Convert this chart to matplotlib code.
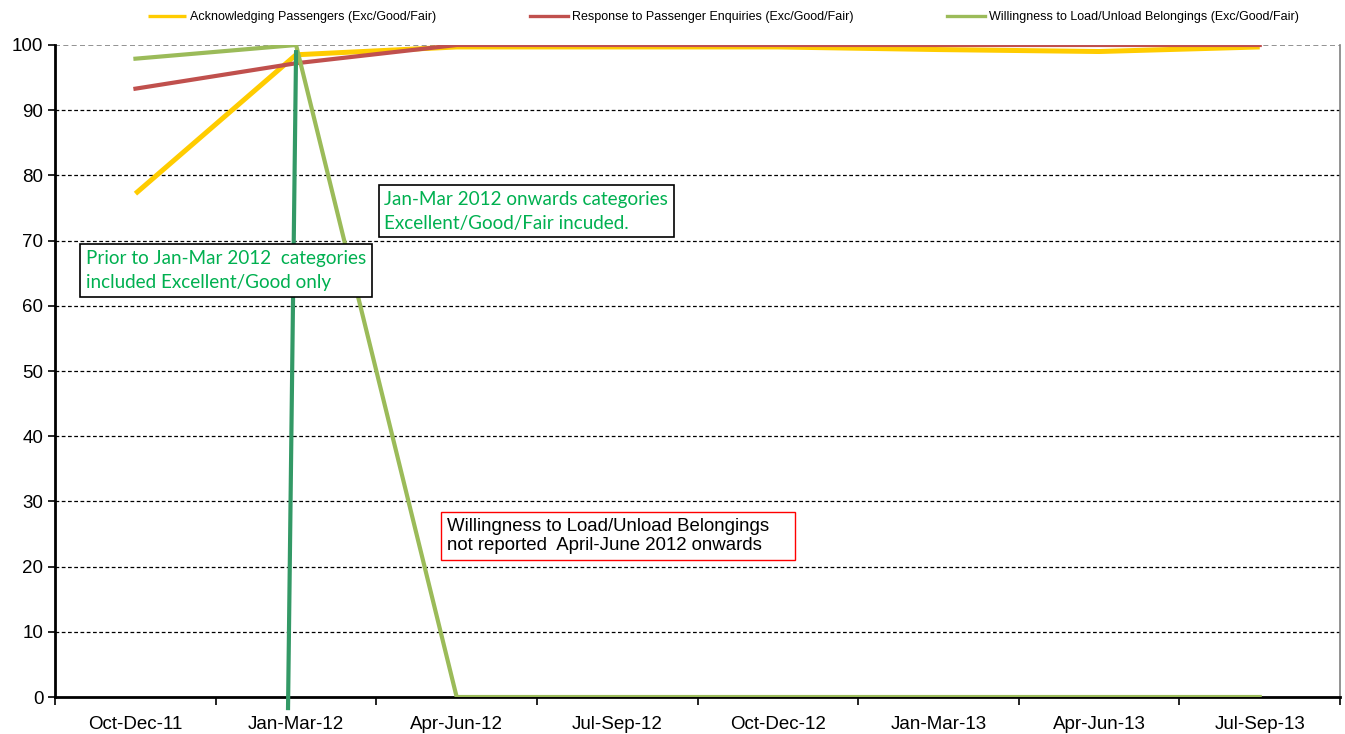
import matplotlib
matplotlib.use("Agg")
import matplotlib.pyplot as plt
from matplotlib.ticker import FixedLocator, NullFormatter

# ---------- data ----------
quarters = ["Oct-Dec-11", "Jan-Mar-12", "Apr-Jun-12", "Jul-Sep-12",
            "Oct-Dec-12", "Jan-Mar-13", "Apr-Jun-13", "Jul-Sep-13"]
acknowledging = [77.2, 98.5, 99.7, 99.7, 99.7, 99.3, 99.0, 99.7]
response = [93.3, 97.2, 100, 100, 100, 100, 100, 100]
willingness = [97.9, 100, 0, 0, 0, 0, 0, 0]

series_labels = [
    "Acknowledging Passengers (Exc/Good/Fair)",
    "Response to Passenger Enquiries (Exc/Good/Fair)",
    "Willingness to Load/Unload Belongings (Exc/Good/Fair)",
]

# marker separating the category change (drawn shape in the original)
divider_x = [1.0, 0.95]
divider_y = [98.9, -1.7]

fig = plt.figure(figsize=(13.45, 7.34), dpi=100)
ax = fig.add_axes([0.041, 0.0504, 0.9553, 0.8883])

x = range(len(quarters))
l1, = ax.plot(x, acknowledging, color="#FFCC00", lw=3.6, solid_capstyle="butt", zorder=3)
l2, = ax.plot(x, response, color="#C0504D", lw=3.0, zorder=4)
l3, = ax.plot(x, willingness, color="#9BBB59", lw=3.0, zorder=5)
ax.plot(divider_x, divider_y, color="#339966", lw=3.0, zorder=6, clip_on=False)

ax.set_xlim(-0.5, len(quarters) - 0.5)
ax.set_ylim(0, 100)

# category axis: tick marks between categories, labels centred
ax.xaxis.set_major_locator(FixedLocator([i - 0.5 for i in range(len(quarters) + 1)]))
ax.xaxis.set_major_formatter(NullFormatter())
ax.xaxis.set_minor_locator(FixedLocator(list(x)))
ax.set_xticklabels(quarters, minor=True, fontsize=13.5, family="Liberation Sans")
ax.tick_params(axis="x", which="major", direction="out", length=6, width=1.2)
ax.tick_params(axis="x", which="minor", length=0, pad=14)

ax.set_yticks(range(0, 101, 10))
ax.tick_params(axis="y", direction="out", length=5, width=1.2, labelsize=13.5)
for lab in ax.get_yticklabels():
    lab.set_family("Liberation Sans")

for yv in range(10, 100, 10):
    ax.axhline(yv, color="black", lw=0.9, ls=(0, (3, 2)), zorder=1)
ax.axhline(100, color="#808080", lw=1.2, ls=(0, (3, 2)), zorder=1)

ax.spines["left"].set_linewidth(2)
ax.spines["bottom"].set_linewidth(2)
ax.spines["top"].set_visible(False)
ax.spines["right"].set_color("#808080")
ax.spines["right"].set_linewidth(1.2)

# annotations
green_txt = "#00B050"
ax.text(-0.31, 65.4, "Prior to Jan-Mar 2012  categories\nincluded Excellent/Good only",
        color=green_txt, fontsize=13.6, family="Lato", linespacing=1.5, va="center",
        bbox=dict(boxstyle="square,pad=0.3", fc="white", ec="black", lw=1.2), zorder=7)
ax.text(1.55, 74.5, "Jan-Mar 2012 onwards categories\nExcellent/Good/Fair incuded.",
        color=green_txt, fontsize=13.6, family="Lato", linespacing=1.5, va="center",
        bbox=dict(boxstyle="square,pad=0.3", fc="white", ec="black", lw=1.2), zorder=7)
ax.text(1.94, 24.7, "Willingness to Load/Unload Belongings    \nnot reported  April-June 2012 onwards",
        color="black", fontsize=13.4, family="Liberation Sans", linespacing=1.2, va="center",
        bbox=dict(boxstyle="square,pad=0.3", fc="white", ec="red", lw=1.0), zorder=7)

fig.legend([l1, l2, l3], series_labels, loc="upper center", bbox_to_anchor=(0.538, 1.0),
           ncol=3, frameon=False, prop={"family": "Liberation Sans", "size": 9},
           handlelength=3.0, columnspacing=7.5, handletextpad=0.35)
for h in fig.legends[0].get_lines():
    h.set_linewidth(2.4)

fig.savefig("out.png", dpi=100)
